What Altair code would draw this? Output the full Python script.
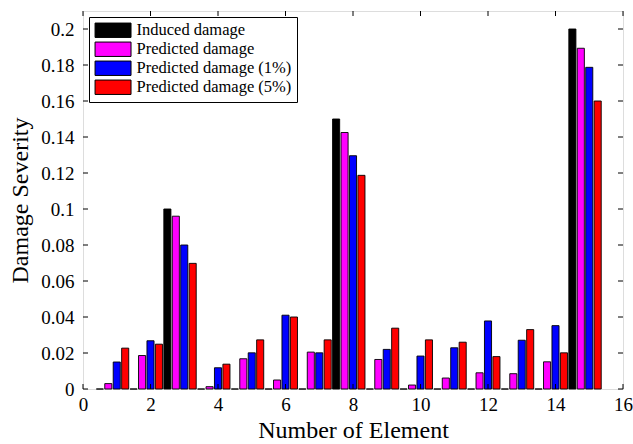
import altair as alt
import pandas as pd

elements = list(range(1, 16))
series_names = ["Induced damage", "Predicted damage", "Predicted damage (1%)", "Predicted damage (5%)"]
series_colors = ["#000000", "#ff00ff", "#0000ff", "#ff0000"]
series_offsets = [-0.5, -0.25, 0.0, 0.25]

induced = [0, 0, 0.1, 0, 0, 0, 0, 0.15, 0, 0, 0, 0, 0, 0, 0.2]
predicted = [0.003, 0.0186, 0.096, 0.0013, 0.0168, 0.005, 0.0205, 0.1425, 0.0164, 0.0022, 0.0061, 0.009, 0.0085, 0.0151, 0.1893]
pred_1pct = [0.015, 0.0268, 0.080, 0.0118, 0.0201, 0.041, 0.0201, 0.1296, 0.022, 0.0183, 0.0229, 0.0378, 0.0271, 0.0352, 0.1787]
pred_5pct = [0.0227, 0.0249, 0.0698, 0.0138, 0.0273, 0.040, 0.0273, 0.1187, 0.0338, 0.0273, 0.026, 0.018, 0.033, 0.0201, 0.16]

x_ticks = [0, 2, 4, 6, 8, 10, 12, 14, 16]
y_ticks = [0, 0.02, 0.04, 0.06, 0.08, 0.1, 0.12, 0.14, 0.16, 0.18, 0.2]

rows = []
for name, off, vals in zip(series_names, series_offsets, [induced, predicted, pred_1pct, pred_5pct]):
    for e, v in zip(elements, vals):
        rows.append({"element": e, "series": name, "offset": off, "value": v})
df = pd.DataFrame(rows)

W, H = 540, 378
FONT = "Liberation Serif"
HALF = 0.105

xscale = alt.Scale(domain=[0, 16], nice=False, zero=False)
yscale = alt.Scale(domain=[0, 0.21], nice=False)

xaxis = alt.Axis(values=x_ticks, ticks=False, domain=False, grid=False,
                 labelFont=FONT, labelFontSize=19, labelColor="black", labelPadding=6,
                 labelFlush=False, labelOverlap=False,
                 title="Number of Element", titleFont=FONT, titleFontSize=24,
                 titleFontWeight="normal", titleColor="black", titlePadding=4)
yaxis = alt.Axis(values=y_ticks, format="~g", ticks=False, domain=False, grid=False,
                 labelFont=FONT, labelFontSize=19, labelColor="black", labelPadding=9,
                 labelFlush=False, labelOverlap=False,
                 title="Damage Severity", titleFont=FONT, titleFontSize=24,
                 titleFontWeight="normal", titleColor="black", titlePadding=8)

bars = alt.Chart(df).transform_calculate(
    x1="datum.element + datum.offset - %f" % HALF,
    x2="datum.element + datum.offset + %f" % HALF,
    base="0",
).mark_bar(stroke="black", strokeWidth=0.9).encode(
    x=alt.X("x1:Q", scale=xscale, axis=xaxis, title="Number of Element"),
    x2="x2:Q",
    y=alt.Y("value:Q", scale=yscale, axis=yaxis, title="Damage Severity"),
    y2="base:Q",
    color=alt.Color("series:N",
                    scale=alt.Scale(domain=series_names, range=series_colors),
                    legend=alt.Legend(title=None, orient="none", legendX=6, legendY=6,
                                      fillColor="white", strokeColor="black", padding=5,
                                      symbolType="M-1,-1H4V1H-1Z", symbolSize=207,
                                      symbolStrokeColor="black", symbolStrokeWidth=1,
                                      symbolOpacity=1,
                                      labelFont=FONT, labelFontSize=16.5, labelColor="black",
                                      rowPadding=0, labelOffset=26)),
)

xt = pd.DataFrame({"t": x_ticks})
yt = pd.DataFrame({"t": y_ticks})
TL = 5

bottom_ticks = alt.Chart(xt).mark_rule(color="black", strokeWidth=1).encode(
    x=alt.X("t:Q", scale=xscale, axis=xaxis, title="Number of Element"),
    y=alt.value(H), y2=alt.value(H - TL))
top_ticks = alt.Chart(xt).mark_rule(color="black", strokeWidth=1).encode(
    x=alt.X("t:Q", scale=xscale, axis=xaxis, title="Number of Element"),
    y=alt.value(0), y2=alt.value(TL))
left_ticks = alt.Chart(yt).mark_rule(color="black", strokeWidth=1).encode(
    y=alt.Y("t:Q", scale=yscale, axis=yaxis, title="Damage Severity"),
    x=alt.value(0), x2=alt.value(TL))
right_ticks = alt.Chart(yt).mark_rule(color="black", strokeWidth=1).encode(
    y=alt.Y("t:Q", scale=yscale, axis=yaxis, title="Damage Severity"),
    x=alt.value(W), x2=alt.value(W - TL))

chart = alt.layer(bars, bottom_ticks, top_ticks, left_ticks, right_ticks).properties(
    width=W, height=H,
    autosize=alt.AutoSizeParams(type="none"),
    padding={"left": 83, "top": 11, "right": 10, "bottom": 55},
).configure_view(stroke="black", strokeWidth=1.2).configure(background="white")

chart.save("out.html", embed_options={"renderer": "svg", "actions": False})
